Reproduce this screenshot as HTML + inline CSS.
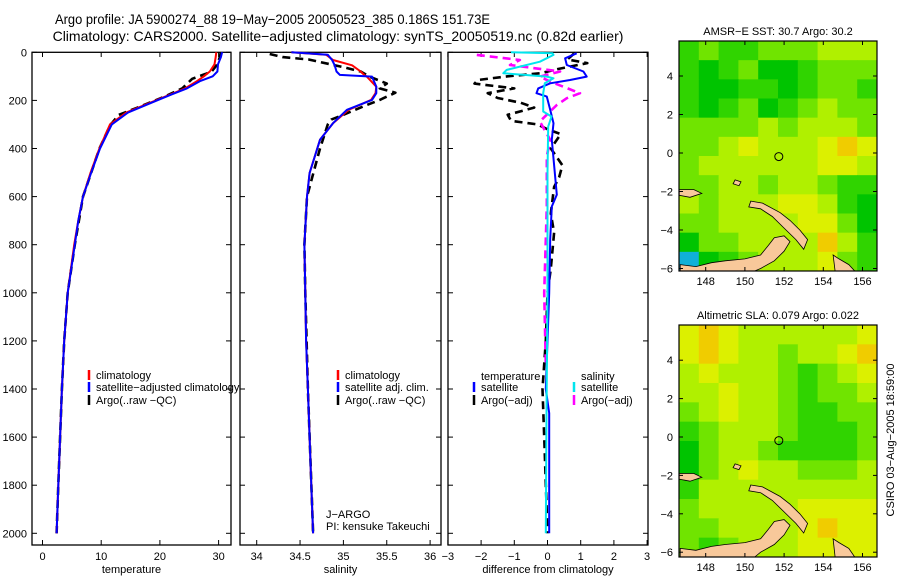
<!DOCTYPE html>
<html><head><meta charset="utf-8"><style>
html,body{margin:0;padding:0;background:#fff;width:900px;height:580px;overflow:hidden}
svg{display:block;font-family:"Liberation Sans",sans-serif}
</style></head><body>
<svg id="fig" width="900" height="580" viewBox="0 0 900 580">
<text x="55" y="24" font-size="14" textLength="435" lengthAdjust="spacingAndGlyphs">Argo profile: JA 5900274_88 19−May−2005 20050523_385 0.186S 151.73E</text>
<text x="338" y="41" font-size="14" text-anchor="middle">Climatology: CARS2000. Satellite−adjusted climatology: synTS_20050519.nc (0.82d earlier)</text>
<g id="p1"></g>
<g id="p2"></g>
<g id="p3"></g>
<g id="m1"></g>
<g id="m2"></g>
<text transform="translate(894,440) rotate(-90)" font-size="11" text-anchor="middle">CSIRO 03−Aug−2005 18:59:00</text>
</svg>
<script>
// ---- data ----
const tempDepth=[0,20,50,80,100,120,150,175,200,250,300,400,500,600,700,800,1000,1200,1400,1600,1800,2000];
const tempClim=[29.6,29.5,29.3,28.5,27.5,26.3,24.3,21.8,19.3,14.3,11.5,9.7,8.2,6.9,6.1,5.4,4.3,3.7,3.3,3.0,2.7,2.4];
const tempSat=[30.6,30.4,29.9,29.8,29.0,26.8,24.6,22.0,19.5,14.6,11.8,9.8,8.3,6.9,6.1,5.5,4.3,3.7,3.3,3.0,2.7,2.4];
const argoTempDepth=[0,20,50,80,90,110,150,180,200,230,260,290,300,400,500,600,800,1000,1200,1400,1600,1800,2000];
const argoTemp=[30.4,30.2,29.8,28.8,27.8,25.5,23.8,21.2,19.2,16.2,13.0,12.0,11.6,9.7,8.3,6.9,5.5,4.3,3.7,3.3,3.0,2.7,2.4];
const salDepth=[0,10,32,54,80,94,101,143,170,198,239,295,364,502,600,800,1000,1200,1400,1600,1800,2000];
const salClim=[34.40,34.80,34.88,35.10,35.20,35.24,35.27,35.38,35.37,35.32,35.06,34.88,34.73,34.61,34.58,34.55,34.56,34.57,34.59,34.61,34.63,34.65];
const salSat=[34.40,34.82,34.87,34.90,34.92,34.96,35.33,35.38,35.38,35.33,35.04,34.88,34.73,34.61,34.58,34.55,34.56,34.57,34.59,34.61,34.63,34.65];
const argoSalDepth=[7,20,30,62,80,101,130,150,168,198,225,260,280,300,400,600,800,1000,1400,2000];
const argoSal=[34.15,34.30,34.60,35.0,35.2,35.3,35.5,35.42,35.6,35.42,35.23,35.0,34.86,34.82,34.73,34.58,34.55,34.56,34.59,34.65];
const satSalDiffDepth=[0,4,11,39,73,87,101,108,129,170,246,267,309,500,1000,1500,2000];
const satSalDiff=[-1.1,0.15,0.18,-0.23,-1.23,-1.33,-0.02,0.18,-0.08,-0.13,-0.13,0.12,0.02,0.0,0.0,-0.03,-0.05];
const satTempDiffDepth=[4,25,53,80,101,115,129,150,170,184,239,295,364,592,641,779,1000,1400,1500,2000];
const satTempDiff=[0.88,0.53,0.58,1.08,1.18,0.68,0.08,-0.28,-0.33,-0.02,0.08,0.18,0.13,0.28,0.13,0.08,0.05,-0.05,0.05,0.05];
const argoSalDiffDepth=[11,32,53,80,101,122,170,191,219,274,288,364,433,640,1000,1300];
const argoSalDiff=[-2.13,-0.83,-1.13,0.38,-0.23,0.08,0.98,0.58,0.28,-0.13,-0.23,0.08,-0.02,-0.02,-0.1,-0.05];
const argoTempDiffDepth=[5,30,45,70,87,100,115,130,150,170,190,210,230,260,285,300,320,340,400,470,520,560,670,750,900,1000,1200,1400,1600,2000];
const argoTempDiff=[0.8,0.6,1.2,0.3,-0.2,-1.2,-2.1,-2.2,-1.0,-1.8,-1.5,-0.8,-0.4,-1.2,-1.1,-0.3,0.0,0.4,0.1,0.45,0.35,0.2,0.1,0.2,0.1,0,-0.05,-0.15,-0.1,0];
const depthTicks=[0,200,400,600,800,1000,1200,1400,1600,1800,2000];
const tempTicks=[0,10,20,30];
const salTicks=[34,34.5,35,35.5,36];
const diffTicks=[-3,-2,-1,0,1,2,3];
const lonTicks=[148,150,152,154,156];
const latTicks=[4,2,0,-2,-4,-6];
const sstGrid=[
[2,3,2,2,3,3,3,4,4,4],[2,1,2,3,1,1,2,3,3,3],[2,1,1,2,2,1,2,3,3,2],[2,1,2,3,1,2,3,4,3,3],
[3,3,3,3,4,3,4,4,4,3],[3,3,4,5,4,4,4,5,6,5],[3,4,4,4,4,4,4,5,5,4],[3,3,4,4,3,4,4,3,2,2],
[4,3,4,4,4,5,5,4,2,1],[3,3,4,4,4,4,5,5,3,1],[1,3,3,4,4,4,4,6,4,2],[-1,1,2,3,4,4,4,5,3,2]];
const slaGrid=[
[5,6,5,4,4,4,4,4,4,5],[5,6,5,4,4,3,4,4,5,6],[4,5,4,4,4,3,2,3,4,5],[4,4,5,4,4,3,2,3,3,4],
[3,4,5,4,4,3,2,2,3,3],[2,3,4,4,4,3,2,2,2,3],[1,3,4,4,3,2,2,2,2,3],[1,3,4,5,4,4,3,3,3,4],
[2,4,4,4,4,4,4,4,4,4],[3,4,4,4,4,4,5,5,5,5],[3,3,4,4,4,4,5,6,5,5],[3,2,3,4,4,4,5,5,5,5]];

const NS='http://www.w3.org/2000/svg';
function mk(tag,attrs,parent){const e=document.createElementNS(NS,tag);for(const k in attrs)e.setAttribute(k,attrs[k]);parent.appendChild(e);return e;}
const yD=d=>52.3+d*0.2405;

function panel(g,x0,x1,xs,xt,labels,xlabel,nameP,showY){
  const r=mk('rect',{x:x0,y:52.3,width:x1-x0,height:492.7,fill:'none',stroke:'#000','stroke-width':1.3},g);
  
  
  depthTicks.forEach(d=>{const y=yD(d);
    mk('line',{x1:x0,x2:x0+5,y1:y,y2:y,stroke:'#000'},g);mk('line',{x1:x1,x2:x1-5,y1:y,y2:y,stroke:'#000'},g);
    if(showY){const t=mk('text',{x:x0-5,y:y+4,'font-size':11,'text-anchor':'end'},g);t.textContent=d;
      
      }});
  xt.forEach((v,i)=>{const x=xs(v);
    mk('line',{x1:x,x2:x,y1:545,y2:540,stroke:'#000'},g);mk('line',{x1:x,x2:x,y1:52.3,y2:57,stroke:'#000'},g);
    const t=mk('text',{x:x,y:560,'font-size':11,'text-anchor':'middle'},g);t.textContent=labels[i];
    
    });
  const t=mk('text',{x:(x0+x1)/2,y:573,'font-size':11,'text-anchor':'middle'},g);t.textContent=xlabel;
  
  
}
function series(g,xs,depths,vals,color,dash,name){
  const d=vals.map((v,i)=>(i?'L':'M')+xs(v).toFixed(1)+','+yD(depths[i]).toFixed(1)).join('');
  const p=mk('path',{d:d,fill:'none',stroke:color,'stroke-width':dash?2.6:2,'stroke-linejoin':'round'},g);
  if(dash)p.setAttribute('stroke-dasharray','8,5');
  
  
}
function legend(g,x,y,color,label){
  mk('line',{x1:x,x2:x,y1:y-6,y2:y+4,stroke:color,'stroke-width':2.5},g);
  const t=mk('text',{x:x+7,y:y+3,'font-size':11},g);t.textContent=label;
  
  
}
function txt(g,x,y,s,name){const t=mk('text',{x:x,y:y,'font-size':11},g);t.textContent=s;
  
  }

const p1=document.getElementById('p1');
const xT=v=>42.5+v*5.87;
panel(p1,32,231,xT,tempTicks,tempTicks.map(String),'temperature','temperature',true);
series(p1,xT,argoTempDepth,argoTemp,'#000',true,'argo-temperature-line');
series(p1,xT,tempDepth,tempClim,'#ff0000',false,'climatology-temperature-line');
series(p1,xT,tempDepth,tempSat,'#0000ff',false,'satellite-temperature-line');
legend(p1,89,376,'#ff0000','climatology');
legend(p1,89,388,'#0000ff','satellite−adjusted climatology');
legend(p1,89,401,'#000','Argo(..raw −QC)');

const p2=document.getElementById('p2');
const xS=v=>256.7+(v-34)*86.7;
panel(p2,240,441,xS,salTicks,salTicks.map(String),'salinity','salinity',false);
series(p2,xS,argoSalDepth,argoSal,'#000',true,'argo-salinity-line');
series(p2,xS,salDepth,salClim,'#ff0000',false,'climatology-salinity-line');
series(p2,xS,salDepth,salSat,'#0000ff',false,'satellite-salinity-line');
legend(p2,338,376,'#ff0000','climatology');
legend(p2,338,388,'#0000ff','satellite adj. clim.');
legend(p2,338,401,'#000','Argo(..raw −QC)');
txt(p2,326,518,'J−ARGO','float-agency');
txt(p2,326,530,'PI: kensuke Takeuchi','principal-investigator');

const p3=document.getElementById('p3');
const xDf=v=>547.5+v*33.2;
panel(p3,448,648,xDf,diffTicks,diffTicks.map(v=>v<0?'−'+Math.abs(v):String(v)),'difference from climatology','difference',false);
series(p3,xDf,argoTempDiffDepth,argoTempDiff,'#000',true,'argo-temperature-diff-line');
series(p3,xDf,argoSalDiffDepth,argoSalDiff,'#ff00ff',true,'argo-salinity-diff-line');
series(p3,xDf,satTempDiffDepth,satTempDiff,'#0000ff',false,'satellite-temperature-diff-line');
series(p3,xDf,satSalDiffDepth,satSalDiff,'#00e5ee',false,'satellite-salinity-diff-line');
txt(p3,481,380,'temperature','legend-temperature-heading');
legend(p3,474,388,'#0000ff','satellite');
legend(p3,474,401,'#000','Argo(−adj)');
txt(p3,581,380,'salinity','legend-salinity-heading');
legend(p3,574,388,'#00e5ee','satellite');
legend(p3,574,401,'#ff00ff','Argo(−adj)');

const pal={'-1':'#10b0d8',0:'#00a838',1:'#00c400',2:'#30d400',3:'#70e400',4:'#b0f000',5:'#dcf000',6:'#f0cc00'};
function map(g,top,bot,grid,title,name){
  const x0=679,x1=877;
  const lonX=l=>705.7+(l-148)*19.6;
  const latY0=top===41?153:437, latS=top===41?19.25:19.2;
  const latY=l=>latY0-l*latS;
  const cw=(x1-x0)/grid[0].length, ch=(bot-top)/grid.length;
  grid.forEach((row,ri)=>row.forEach((v,ci)=>{
    const c=mk('rect',{x:x0+ci*cw,y:top+ri*ch,width:cw+0.5,height:ch+0.5,fill:pal[v]},g);
    
    
  }));
  const lands=[
   [[150.3,-2.5],[150.9,-2.6],[151.8,-3.1],[152.3,-3.5],[152.8,-4.0],[153.2,-4.5],[153.0,-5.0],[152.6,-4.5],[152.0,-3.9],[151.4,-3.3],[150.8,-2.9],[150.2,-2.8]],
   [[146.7,-5.8],[147.5,-5.9],[148.3,-5.7],[149.0,-5.6],[150.0,-5.5],[150.8,-5.3],[151.2,-4.8],[151.5,-4.4],[152.0,-4.3],[152.3,-4.6],[152.0,-5.1],[151.5,-5.6],[150.8,-6.0],[150.5,-6.3],[146.7,-6.3]],
   [[146.65,-1.9],[147.4,-1.9],[147.8,-2.1],[147.2,-2.3],[146.65,-2.2]],
   [[154.5,-5.3],[154.8,-5.5],[155.3,-5.8],[155.6,-6.3],[154.6,-6.3]],
   [[149.5,-1.4],[149.8,-1.5],[149.7,-1.7],[149.4,-1.6]]];
  lands.forEach(L=>{const p=mk('polygon',{points:L.map(q=>lonX(q[0]).toFixed(1)+','+Math.min(bot,latY(q[1])).toFixed(1)).join(' '),fill:'#f8c89a',stroke:'#000','stroke-width':0.8},g);
    
    });
  const c=mk('circle',{cx:lonX(151.73),cy:latY(-0.186),r:4,fill:'none',stroke:'#000','stroke-width':1},g);
  
  
  mk('rect',{x:x0,y:top,width:x1-x0,height:bot-top,fill:'none',stroke:'#000','stroke-width':1.2},g);
  lonTicks.forEach(l=>{const x=lonX(l);mk('line',{x1:x,x2:x,y1:bot,y2:bot-4,stroke:'#000'},g);mk('line',{x1:x,x2:x,y1:top,y2:top+4,stroke:'#000'},g);
    const t=mk('text',{x:x,y:bot+14,'font-size':11,'text-anchor':'middle'},g);t.textContent=l;
    
    });
  latTicks.forEach(l=>{const y=latY(l);mk('line',{x1:x0,x2:x0+4,y1:y,y2:y,stroke:'#000'},g);mk('line',{x1:x1,x2:x1-4,y1:y,y2:y,stroke:'#000'},g);
    const t=mk('text',{x:x0-6,y:y+4,'font-size':11,'text-anchor':'end'},g);t.textContent=l<0?'−'+Math.abs(l):l;
    
    });
  const t=mk('text',{x:778,y:top-6,'font-size':11,'text-anchor':'middle'},g);t.textContent=title;
  
  
}
map(document.getElementById('m1'),41,271,sstGrid,'AMSR−E SST: 30.7 Argo: 30.2','sst-map');
map(document.getElementById('m2'),325,557,slaGrid,'Altimetric SLA: 0.079 Argo: 0.022','sla-map');
</script>
</body></html>
